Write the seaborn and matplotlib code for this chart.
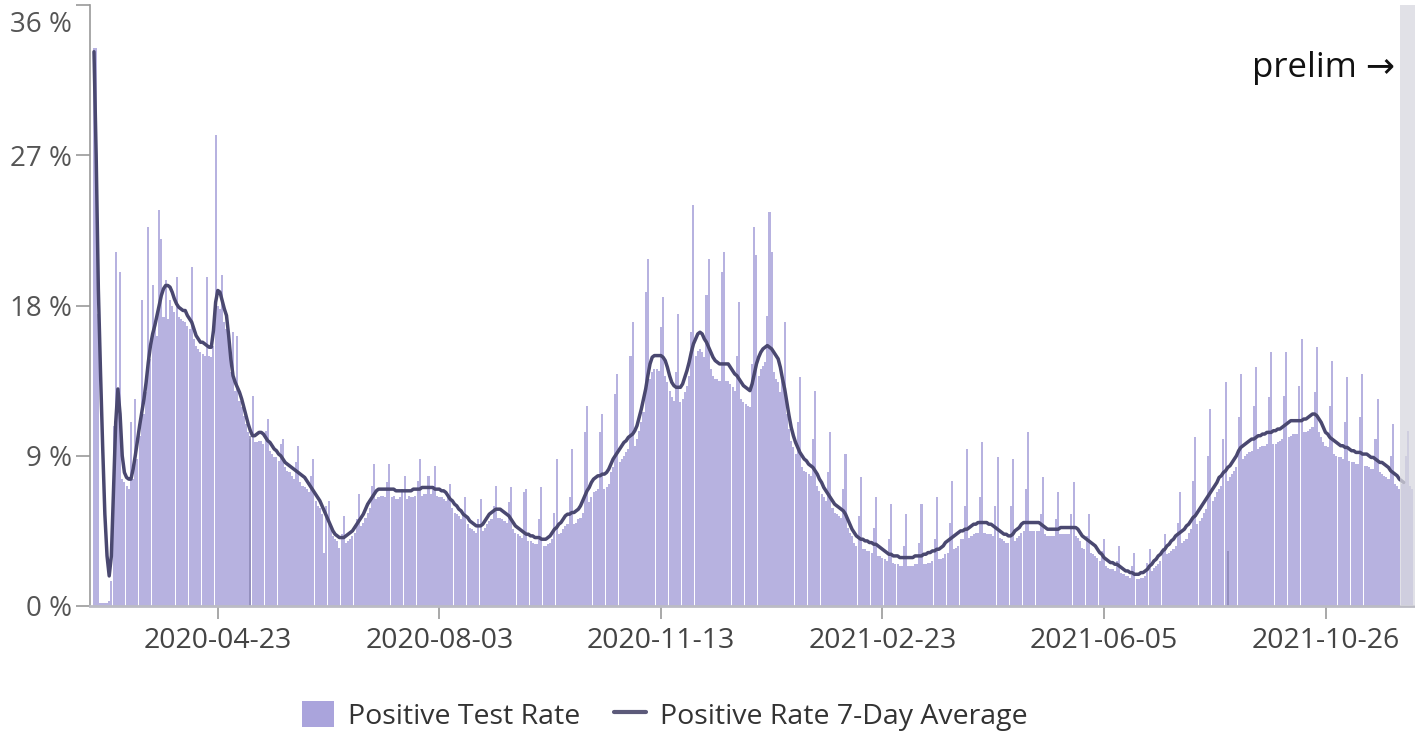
import matplotlib
matplotlib.use("Agg")
import matplotlib.pyplot as plt
import matplotlib.transforms as mtransforms
from matplotlib.patches import Patch
from matplotlib.lines import Line2D
import seaborn as sns
import pandas as pd
import numpy as np

# Daily positive test rate (%), one row per week
rate = [
    33.4, 33.4, 17.5, 0.2, 0.2, 0.2, 0.2,
    0.3, 1.5, 10.8, 21.2, 12.5, 20.0, 7.6,
    7.4, 7.2, 7.0, 11.0, 7.6, 12.4, 8.8,
    10.2, 18.3, 11.5, 12.8, 22.7, 14.8, 19.2,
    17.0, 16.2, 23.7, 22.0, 17.3, 19.5, 17.2,
    18.3, 18.0, 17.6, 19.7, 17.3, 17.2, 17.1,
    17.0, 16.8, 16.6, 20.3, 16.0, 15.6, 15.4,
    15.2, 15.1, 15.0, 19.7, 15.0, 14.9, 15.6,
    28.2, 18.0, 17.8, 19.8, 17.0, 16.6, 15.5,
    14.0, 16.4, 12.9, 16.2, 12.3, 11.9, 11.4,
    10.9, 10.4, 10.0, 12.6, 9.8, 9.8, 9.9,
    9.9, 9.7, 10.5, 11.2, 9.3, 9.1, 8.9,
    8.9, 8.7, 9.7, 10.0, 8.3, 8.1, 8.0,
    7.8, 7.6, 8.6, 9.6, 7.4, 7.2, 7.1,
    7.0, 6.8, 7.8, 8.8, 6.3, 6.0, 5.9,
    5.5, 3.2, 6.0, 6.3, 4.6, 4.2, 4.0,
    3.9, 3.5, 4.3, 5.4, 3.8, 3.9, 4.0,
    4.2, 4.4, 5.2, 6.7, 4.8, 5.0, 5.3,
    5.6, 5.9, 7.2, 8.5, 6.4, 6.5, 6.6,
    6.6, 6.5, 7.4, 8.5, 6.5, 6.6, 6.4,
    6.4, 6.5, 7.0, 7.8, 6.4, 6.6, 6.5,
    6.5, 6.6, 7.5, 8.8, 6.6, 6.7, 6.7,
    7.8, 6.7, 7.2, 8.4, 6.6, 6.5, 6.5,
    6.4, 6.3, 6.5, 7.3, 5.9, 5.6, 5.5,
    5.4, 5.2, 5.6, 6.5, 4.9, 4.7, 4.6,
    4.5, 4.4, 5.2, 6.4, 4.5, 4.7, 4.9,
    5.1, 5.2, 6.0, 7.2, 5.3, 5.3, 5.2,
    5.1, 5.0, 6.2, 7.1, 4.6, 4.4, 4.3,
    4.2, 4.1, 6.8, 7.0, 3.9, 3.9, 3.8,
    3.7, 3.7, 5.2, 7.1, 3.6, 3.6, 3.7,
    3.8, 4.0, 5.6, 8.8, 4.3, 4.4, 4.6,
    4.8, 4.9, 6.5, 9.4, 4.9, 5.0, 5.2,
    5.3, 5.6, 10.4, 12.0, 6.2, 6.5, 6.8,
    6.9, 7.0, 10.4, 11.5, 7.0, 7.1, 7.3,
    8.0, 8.3, 12.7, 13.9, 8.6, 8.8, 9.0,
    9.2, 9.4, 15.0, 17.0, 9.6, 10.0, 10.5,
    11.0, 11.6, 18.8, 20.8, 13.6, 14.0, 14.2,
    14.2, 14.1, 16.7, 18.5, 13.8, 13.4, 12.9,
    12.5, 12.3, 14.0, 17.5, 12.2, 12.4, 12.8,
    13.2, 13.8, 16.4, 24.0, 15.0, 15.3, 15.4,
    15.2, 14.9, 18.6, 20.8, 14.2, 13.8, 13.6,
    13.6, 13.5, 20.0, 21.2, 13.5, 13.5, 13.3,
    13.1, 12.9, 15.0, 18.2, 12.4, 12.2, 12.1,
    12.0, 11.9, 14.5, 22.7, 21.0, 13.8, 14.2,
    14.4, 14.6, 17.4, 23.6, 21.2, 14.0, 13.6,
    13.4, 12.8, 13.5, 17.0, 11.5, 10.6, 9.9,
    9.5, 9.1, 11.0, 13.7, 8.3, 8.1, 8.0,
    7.9, 7.8, 10.0, 12.9, 7.2, 6.9, 6.7,
    6.5, 6.3, 8.0, 10.4, 5.9, 5.6, 5.5,
    5.4, 5.3, 7.0, 9.1, 4.7, 4.4, 4.2,
    3.8, 3.6, 5.4, 7.7, 3.4, 3.4, 3.3,
    3.3, 3.2, 4.7, 6.5, 3.0, 3.0, 2.9,
    2.8, 2.7, 4.0, 6.1, 2.6, 2.5, 2.5,
    2.4, 2.4, 3.6, 5.5, 2.4, 2.4, 2.4,
    2.5, 2.5, 3.8, 6.1, 2.5, 2.5, 2.6,
    2.6, 2.7, 4.0, 6.5, 2.8, 2.8, 2.9,
    3.1, 3.2, 5.0, 7.5, 3.4, 3.5, 3.6,
    4.0, 4.0, 6.0, 9.4, 4.1, 4.2, 4.3,
    4.4, 4.4, 6.5, 9.8, 4.4, 4.3, 4.3,
    4.3, 4.2, 6.0, 8.9, 4.1, 4.0, 3.9,
    3.8, 3.8, 6.0, 8.8, 3.9, 4.1, 4.2,
    4.4, 4.5, 7.0, 10.4, 4.5, 4.5, 4.5,
    4.5, 4.5, 5.5, 7.7, 4.3, 4.2, 4.2,
    4.2, 4.2, 5.2, 6.8, 4.3, 4.3, 4.3,
    4.3, 4.3, 5.5, 7.4, 4.2, 4.1, 3.9,
    3.5, 3.4, 4.2, 5.5, 3.2, 3.1, 3.0,
    2.9, 2.7, 3.3, 4.0, 2.4, 2.3, 2.2,
    2.2, 2.1, 2.7, 3.6, 2.0, 1.9, 1.8,
    1.8, 1.7, 2.4, 3.2, 1.6, 1.6, 1.7,
    1.7, 1.8, 2.6, 3.4, 2.1, 2.3, 2.4,
    2.5, 2.7, 3.5, 4.3, 3.1, 3.2, 3.3,
    3.4, 3.6, 5.0, 6.8, 3.8, 3.9, 4.0,
    4.4, 4.6, 7.5, 10.1, 4.9, 5.1, 5.3,
    5.6, 5.8, 9.0, 11.8, 6.3, 6.5, 6.8,
    7.0, 7.2, 10.0, 13.4, 7.5, 7.7, 7.9,
    8.1, 8.3, 11.3, 13.9, 8.8, 9.0, 9.1,
    9.2, 9.3, 12.0, 14.3, 9.4, 9.5, 9.6,
    9.6, 9.7, 12.5, 15.2, 9.7, 9.7, 9.8,
    9.9, 10.0, 12.6, 15.2, 10.1, 10.2, 10.3,
    10.3, 10.3, 13.2, 16.0, 10.4, 10.4, 10.5,
    10.6, 10.7, 12.8, 15.5, 10.4, 10.1, 9.8,
    9.6, 9.5, 12.0, 14.7, 9.1, 9.0, 8.9,
    8.9, 8.8, 11.0, 13.7, 8.7, 8.6, 8.6,
    8.5, 8.5, 11.3, 13.9, 8.4, 8.4, 8.3,
    8.2, 8.2, 10.0, 12.4, 8.0, 7.9, 7.8,
    7.7, 7.6, 9.0, 10.9, 7.3, 7.2, 7.0,
    7.3, 7.4, 9.0, 10.5, 7.2, 7.0,
]

# 7-day average (%), one row per week, stops where preliminary data begins
avg7 = [
    33.2, 27.0, 19.0, 14.0, 9.5, 5.5, 3.0,
    1.8, 3.0, 7.0, 11.0, 13.0, 11.5, 9.0,
    8.0, 7.7, 7.6, 7.6, 8.2, 9.0, 9.9,
    10.8, 11.6, 12.4, 13.4, 14.6, 15.6, 16.3,
    16.8, 17.4, 18.0, 18.6, 19.0, 19.2, 19.2,
    19.1, 18.8, 18.4, 18.1, 17.9, 17.8, 17.7,
    17.7, 17.4, 17.2, 17.0, 16.6, 16.2, 16.0,
    15.8, 15.8, 15.7, 15.6, 15.5, 15.5, 16.5,
    18.2, 18.9, 18.8, 18.3, 17.8, 17.4, 16.2,
    14.8, 13.8, 13.4, 13.1, 12.8, 12.4, 11.9,
    11.4, 10.9, 10.5, 10.2, 10.2, 10.3, 10.4,
    10.4, 10.3, 10.1, 9.9, 9.8, 9.6, 9.4,
    9.3, 9.1, 9.0, 8.8, 8.6, 8.5, 8.4,
    8.3, 8.2, 8.1, 8.0, 7.9, 7.8, 7.7,
    7.5, 7.3, 7.1, 6.9, 6.7, 6.5, 6.3,
    6.0, 5.7, 5.4, 5.1, 4.8, 4.5, 4.3,
    4.2, 4.1, 4.1, 4.1, 4.2, 4.3, 4.4,
    4.5, 4.7, 4.9, 5.1, 5.3, 5.5, 5.8,
    6.1, 6.3, 6.5, 6.7, 6.9, 7.0, 7.0,
    7.0, 7.0, 7.0, 7.0, 7.0, 7.0, 6.9,
    6.9, 6.9, 6.9, 6.9, 6.9, 6.9, 6.9,
    7.0, 7.0, 7.0, 7.0, 7.1, 7.1, 7.1,
    7.1, 7.1, 7.1, 7.0, 7.0, 7.0, 6.9,
    6.9, 6.8, 6.6, 6.4, 6.3, 6.1, 6.0,
    5.8, 5.7, 5.5, 5.4, 5.3, 5.1, 5.0,
    4.9, 4.8, 4.8, 4.8, 4.9, 5.1, 5.3,
    5.5, 5.6, 5.7, 5.8, 5.8, 5.8, 5.7,
    5.6, 5.5, 5.4, 5.2, 5.0, 4.8, 4.7,
    4.6, 4.5, 4.4, 4.3, 4.3, 4.2, 4.2,
    4.1, 4.1, 4.1, 4.0, 4.0, 4.0, 4.1,
    4.2, 4.4, 4.6, 4.7, 4.9, 5.0, 5.2,
    5.4, 5.5, 5.5, 5.6, 5.6, 5.7, 5.8,
    6.0, 6.3, 6.6, 6.9, 7.1, 7.4, 7.6,
    7.7, 7.8, 7.8, 7.9, 7.9, 8.0, 8.2,
    8.5, 8.8, 9.0, 9.2, 9.4, 9.6, 9.8,
    9.9, 10.1, 10.2, 10.3, 10.5, 10.8, 11.3,
    11.8, 12.4, 13.0, 13.8, 14.5, 14.9, 15.0,
    15.0, 15.0, 15.0, 14.9, 14.7, 14.3, 13.8,
    13.4, 13.2, 13.1, 13.1, 13.1, 13.3, 13.7,
    14.1, 14.6, 15.2, 15.7, 16.0, 16.3, 16.4,
    16.3, 16.0, 15.8, 15.5, 15.2, 14.9, 14.7,
    14.6, 14.5, 14.5, 14.5, 14.5, 14.5, 14.3,
    14.1, 13.9, 13.8, 13.6, 13.4, 13.2, 13.1,
    13.0, 12.9, 13.3, 13.9, 14.5, 14.9, 15.2,
    15.4, 15.5, 15.6, 15.5, 15.4, 15.2, 15.0,
    14.8, 14.3, 13.6, 13.0, 12.2, 11.4, 10.7,
    10.2, 9.8, 9.5, 9.2, 9.0, 8.8, 8.7,
    8.5, 8.4, 8.3, 8.1, 7.9, 7.6, 7.4,
    7.1, 6.9, 6.7, 6.5, 6.3, 6.1, 6.0,
    5.9, 5.8, 5.7, 5.5, 5.2, 4.9, 4.6,
    4.4, 4.2, 4.1, 4.0, 4.0, 3.9, 3.9,
    3.8, 3.8, 3.7, 3.7, 3.6, 3.5, 3.4,
    3.3, 3.2, 3.1, 3.1, 3.0, 3.0, 3.0,
    2.9, 2.9, 2.9, 2.9, 2.9, 2.9, 2.9,
    3.0, 3.0, 3.0, 3.0, 3.1, 3.1, 3.2,
    3.2, 3.3, 3.3, 3.4, 3.4, 3.5, 3.6,
    3.8, 3.9, 4.0, 4.1, 4.2, 4.3, 4.4,
    4.5, 4.5, 4.6, 4.6, 4.7, 4.8, 4.9,
    4.9, 5.0, 5.0, 5.0, 5.0, 5.0, 4.9,
    4.9, 4.8, 4.7, 4.6, 4.5, 4.4, 4.3,
    4.3, 4.2, 4.2, 4.3, 4.5, 4.6, 4.7,
    4.9, 5.0, 5.0, 5.0, 5.0, 5.0, 5.0,
    5.0, 5.0, 4.9, 4.8, 4.7, 4.6, 4.6,
    4.6, 4.6, 4.6, 4.6, 4.7, 4.7, 4.7,
    4.7, 4.7, 4.7, 4.7, 4.7, 4.6, 4.4,
    4.2, 4.1, 4.0, 3.9, 3.8, 3.7, 3.6,
    3.4, 3.2, 3.1, 2.9, 2.8, 2.7, 2.6,
    2.6, 2.5, 2.5, 2.4, 2.3, 2.2, 2.1,
    2.1, 2.0, 2.0, 1.9, 1.9, 1.9, 2.0,
    2.0, 2.1, 2.2, 2.4, 2.5, 2.7, 2.8,
    3.0, 3.1, 3.3, 3.4, 3.6, 3.7, 3.9,
    4.0, 4.2, 4.3, 4.4, 4.5, 4.6, 4.8,
    4.9, 5.1, 5.3, 5.4, 5.6, 5.8, 6.0,
    6.2, 6.4, 6.6, 6.8, 7.0, 7.2, 7.4,
    7.7, 7.8, 8.0, 8.1, 8.3, 8.4, 8.6,
    8.8, 9.0, 9.3, 9.5, 9.6, 9.7, 9.8,
    9.9, 10.0, 10.0, 10.1, 10.2, 10.2, 10.3,
    10.3, 10.4, 10.4, 10.4, 10.5, 10.5, 10.6,
    10.6, 10.7, 10.8, 10.9, 11.0, 11.1, 11.1,
    11.1, 11.1, 11.1, 11.1, 11.2, 11.2, 11.3,
    11.4, 11.5, 11.5, 11.4, 11.2, 11.0, 10.7,
    10.4, 10.3, 10.1, 10.0, 9.9, 9.8, 9.7,
    9.6, 9.6, 9.5, 9.5, 9.4, 9.3, 9.3,
    9.2, 9.2, 9.2, 9.1, 9.1, 9.1, 9.0,
    8.9, 8.9, 8.8, 8.7, 8.6, 8.6, 8.5,
    8.4, 8.3, 8.1, 8.0, 7.9, 7.8, 7.6,
    7.5, 7.4,
]

# Tick labels, one every 102 days starting at day 57
tick_labels = ["2020-04-23", "2020-08-03", "2020-11-13", "2021-02-23", "2021-06-05", "2021-10-26"]
first_tick_day = 57
tick_step = 102

# Days marked with a darker rule, and their heights (%)
marker_days = [72, 522]
marker_tops = [10.2, 3.3]

# Preliminary data starts at this day
prelim_start = 602

bar_color = "#b7b2e0"
line_color = "#4a4870"

sns.set_theme(style = "white")
plt.rcParams["font.family"] = ["Open Sans", "DejaVu Sans"]

df_bars = pd.DataFrame({"day": np.arange(len(rate)), "rate": rate})
df_line = pd.DataFrame({"day": np.arange(len(avg7)), "avg": avg7})

fig = plt.figure(figsize = (14.15, 7.32), dpi = 100)
ax = fig.add_axes([90 / 1415, 1 - 606 / 732, 1 - 90 / 1415, (606 - 5) / 732])

# Daily bars
sns.barplot(data = df_bars, x = "day", y = "rate", native_scale = True, color = bar_color,
            saturation = 1, width = 0.95, errorbar = None, linewidth = 0, ax = ax)

# Darker rule marks
ax.vlines(marker_days, 0, marker_tops, color = "#8e8ab8", linewidth = 1.2)

# 7-day average line
sns.lineplot(data = df_line, x = "day", y = "avg", color = line_color, linewidth = 2.5, ax = ax)

# Preliminary band and label
ax.axvspan(prelim_start - 0.5, len(rate) + 2, color = "#d8d8df", alpha = 0.75, linewidth = 0, zorder = 5)
ax.text(prelim_start - 3, 32.2, "prelim \u2192", ha = "right", va = "center", fontsize = 25, color = "#111111",
        family = ["Open Sans", "DejaVu Sans"])

# Axes
ax.set_xlim(-1.84, 608.2)
ax.set_ylim(0, 36)
ax.set_xlabel("")
ax.set_ylabel("")

tick_days = [first_tick_day + tick_step * k for k in range(len(tick_labels))]
ax.set_xticks(tick_days, tick_labels)
ax.set_yticks([0, 9, 18, 27, 36], ["0 %", "9 %", "18 %", "27 %", "36 %"])

ax.tick_params(axis = "x", length = 9, width = 1.2, color = "#999999", pad = 6, labelsize = 20.5, labelcolor = "#444444")
ax.tick_params(axis = "y", length = 10, width = 1.2, color = "#999999", pad = 3, labelsize = 20, labelcolor = "#555555")
ax.xaxis.set_ticks_position("bottom")
ax.yaxis.set_ticks_position("left")

for side in ["top", "right"]:
    ax.spines[side].set_visible(False)
ax.spines["left"].set_color("#999999")
ax.spines["left"].set_linewidth(1.2)
ax.spines["bottom"].set_color("#bbbbc4")
ax.spines["bottom"].set_linewidth(2)

# Top label sits a bit lower so it stays inside the picture
top_label = ax.yaxis.get_major_ticks()[-1].label1
top_label.set_transform(top_label.get_transform() + mtransforms.ScaledTranslation(0, -0.17, fig.dpi_scale_trans))

# Legend
handles = [
    Patch(facecolor = "#aaa4dc", edgecolor = "none"),
    Line2D([0], [0], color = "#5c5a7a", linewidth = 3),
]
fig.legend(handles, ["Positive Test Rate", "Positive Rate 7-Day Average"], loc = "center",
           bbox_to_anchor = (0.47, 0.022), ncol = 2, frameon = False, fontsize = 20.5,
           handlelength = 1.1, handleheight = 1.0, handletextpad = 0.5, columnspacing = 1.2,
           labelcolor = "#333333")

fig.savefig("out.png", dpi = 100, facecolor = "white")
